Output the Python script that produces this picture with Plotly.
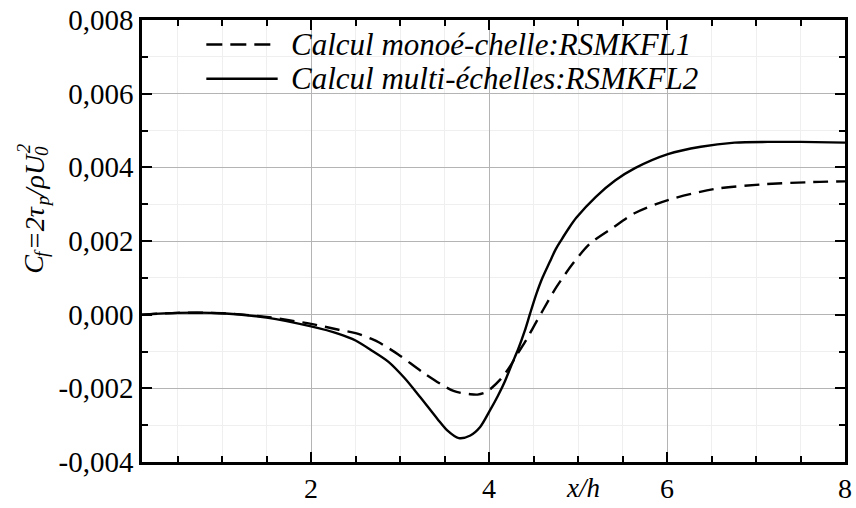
import plotly.graph_objects as go

# --- data ---
x_multi = [0.1, 0.5, 1.0, 1.5, 2.0, 2.31, 2.5, 2.68, 2.87, 3.05, 3.23, 3.42, 3.53, 3.66,
           3.79, 3.90, 4.01, 4.10, 4.18, 4.25, 4.33, 4.40, 4.46, 4.53, 4.60, 4.68, 4.75,
           4.81, 4.90, 4.98, 5.20, 5.42, 5.64, 6.01, 6.38, 6.76, 7.13, 7.50, 8.0]
y_multi = [0.00, 0.05, 0.04, -0.08, -0.32, -0.52, -0.70, -0.97, -1.28, -1.72, -2.25, -2.83,
           -3.14, -3.35, -3.28, -3.05, -2.60, -2.20, -1.80, -1.38, -0.92, -0.45, 0.02, 0.55,
           1.00, 1.42, 1.78, 2.02, 2.36, 2.63, 3.20, 3.65, 3.98, 4.36, 4.56, 4.67, 4.69,
           4.69, 4.67]

x_mono = [0.1, 0.5, 1.0, 1.5, 1.75, 2.0, 2.31, 2.5, 2.68, 2.76, 2.98, 3.27, 3.6, 3.79,
          3.87, 3.97, 4.13, 4.25, 4.31, 4.42, 4.50, 4.61, 4.76, 4.94, 5.13, 5.39, 5.64,
          6.01, 6.53, 7.09, 7.64, 8.0]
y_mono = [0.00, 0.05, 0.04, -0.06, -0.15, -0.25, -0.41, -0.50, -0.66, -0.75, -1.08, -1.59,
          -2.07, -2.16, -2.17, -2.10, -1.75, -1.35, -1.10, -0.68, -0.33, 0.14, 0.76, 1.38,
          1.92, 2.36, 2.76, 3.11, 3.41, 3.54, 3.60, 3.62]

y_scale = 1e-3
y_tickvals = [-0.004, -0.002, 0.0, 0.002, 0.004, 0.006, 0.008]
y_ticktext = ["-0,004", "-0,002", "0,000", "0,002", "0,004", "0,006", "0,008"]
x_tickvals = [2, 4, 6, 8]
x_ticktext = ["2", "4", "6", "8"]

name_mono = "Calcul monoé-chelle:RSMKFL1"
name_multi = "Calcul multi-échelles:RSMKFL2"

# y-axis title C_f = 2 tau_p / rho U_0^2, split into (text, width_em, size, shift) pieces
y_title_parts = [("C", 0.667, 28, 0), ("f", 0.278, 19, 1), ("=2τ", 1.615, 28, 0),
                 ("p", 0.5, 19, 1), ("/ρU", 1.5, 28, 0), ("0", 0.5, 19, 1),
                 ("2", 0.5, 19, -1)]

SERIF = "Times New Roman"
W, H = 856, 508
ML, MR, MT, MB = 142, 4, 18, 39
PW, PH = W - ML - MR, H - MT - MB


def px2paper(px, py):
    return (px - ML) / PW, (H - MB - py) / PH


fig = go.Figure()
fig.add_trace(go.Scatter(
    x=x_mono, y=[v * y_scale for v in y_mono], mode="lines", name="mono",
    line=dict(color="black", width=2.4, dash="15px,8px", shape="spline", smoothing=0.8),
    showlegend=False,
))
fig.add_trace(go.Scatter(
    x=x_multi, y=[v * y_scale for v in y_multi], mode="lines", name="multi",
    line=dict(color="black", width=2.4, shape="spline", smoothing=0.8),
    showlegend=False,
))

axis_common = dict(
    showline=True, linecolor="black", linewidth=2.5, mirror="allticks",
    ticks="inside", ticklen=10, tickwidth=2, tickcolor="black",
    showgrid=True, gridcolor="#b4b4b4", gridwidth=1, zeroline=False,
    ticklabeloverflow="allow",
)

fig.update_xaxes(
    range=[0.1, 8], tickvals=x_tickvals, ticktext=x_ticktext,
    tickfont=dict(family=SERIF, size=28),
    minor=dict(dtick=0.5, tick0=0, ticks="inside", ticklen=6, tickwidth=2,
               tickcolor="black", showgrid=True, gridcolor="#efefef", gridwidth=1),
    **axis_common,
)
fig.update_yaxes(
    range=[-0.004, 0.008], tickvals=y_tickvals, ticktext=y_ticktext,
    tickfont=dict(family=SERIF, size=29),
    minor=dict(dtick=0.001, tick0=0, ticks="inside", ticklen=6, tickwidth=2,
               tickcolor="black", showgrid=True, gridcolor="#efefef", gridwidth=1),
    **axis_common,
)

# y title: pieces stacked upward (rotated -90), subscripts shifted right, superscript left
y_cursor = 277.0
last_sub_start = None
for text, w_em, size, shift in y_title_parts:
    w = w_em * size
    if shift == -1 and last_sub_start is not None:
        start = last_sub_start - 3
    else:
        start = y_cursor
    center_y = start - w / 2
    px = 33 + (8 if shift == 1 else (-10 if shift == -1 else 0))
    ax, ay = px2paper(px, center_y)
    fig.add_annotation(text="<i>" + text + "</i>", xref="paper", yref="paper", x=ax, y=ay,
                       textangle=-90, showarrow=False, xanchor="center", yanchor="middle",
                       font=dict(family=SERIF, size=size))
    if shift == 1:
        last_sub_start = start
    y_cursor = min(y_cursor, start - w)

# x title
fig.add_annotation(
    text="<i>x/h</i>", xref="x", yref="paper", x=5.06, y=-0.058,
    showarrow=False, font=dict(family=SERIF, size=27), xanchor="center", yanchor="middle",
)

# legend (drawn inside the plot, top-left, white background hiding the grid)
fig.add_shape(type="rect", xref="paper", yref="paper", x0=0.0394, x1=0.852, y0=0.825, y1=0.997,
              fillcolor="white", line=dict(width=0), layer="between")
fig.add_shape(type="line", xref="paper", yref="paper", x0=0.0915, x1=0.183, y0=0.9446, y1=0.9446,
              line=dict(color="black", width=2.4, dash="16px,8px"))
fig.add_shape(type="line", xref="paper", yref="paper", x0=0.0915, x1=0.193, y0=0.867, y1=0.867,
              line=dict(color="black", width=2.4))
fig.add_annotation(text="<i>" + name_mono + "</i>", xref="paper", yref="paper",
                   x=0.2085, y=0.9446, xanchor="left", yanchor="middle", showarrow=False,
                   font=dict(family=SERIF, size=31))
fig.add_annotation(text="<i>" + name_multi + "</i>", xref="paper", yref="paper",
                   x=0.2085, y=0.867, xanchor="left", yanchor="middle", showarrow=False,
                   font=dict(family=SERIF, size=31))

fig.update_layout(
    font=dict(family=SERIF, color="black"),
    width=W, height=H,
    margin=dict(l=ML, r=MR, t=MT, b=MB),
    plot_bgcolor="white",
    showlegend=False,
)

fig.write_html("out.html")
